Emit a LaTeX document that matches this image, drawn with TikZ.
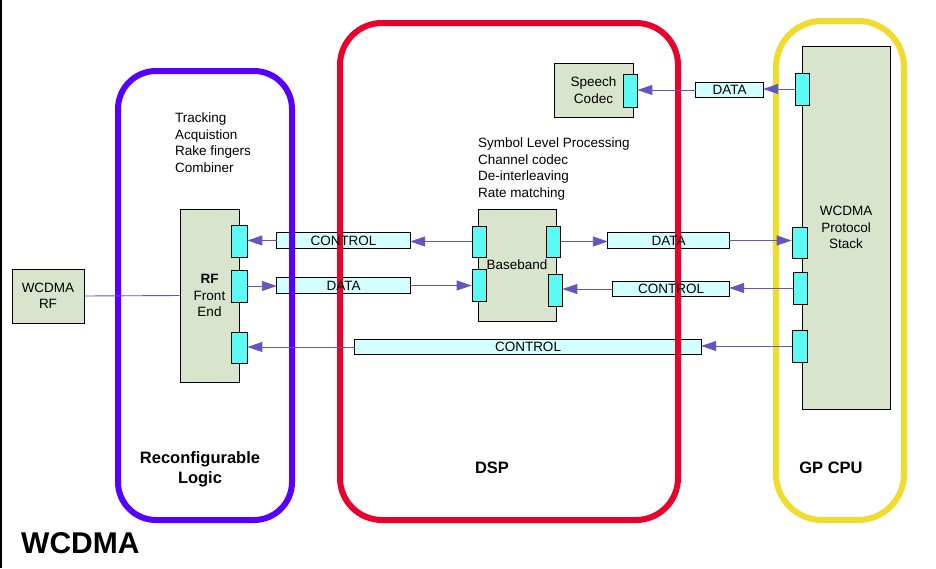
\documentclass[tikz,border=0pt]{standalone}
\usepackage{fontspec}
\setmainfont{Liberation Sans}
\usetikzlibrary{arrows.meta}
\pgfdeclarelayer{background}
\pgfdeclarelayer{canvas}
\pgfsetlayers{canvas,background,main}
\definecolor{zonepurple}{RGB}{88,0,255}
\definecolor{zonered}{RGB}{234,0,42}
\definecolor{zoneyellow}{RGB}{240,220,44}
\definecolor{boxgreen}{RGB}{216,228,204}
\definecolor{portcyan}{RGB}{92,250,245}
\definecolor{lblfill}{RGB}{212,255,255}
\definecolor{arrowc}{RGB}{100,86,190}
\newcommand{\smallfont}{\fontsize{13.5}{16.5}\selectfont}
\newcommand{\boldlbl}{\fontsize{16.5}{20}\selectfont\bfseries}
\tikzset{
  unit/.style={draw=black, fill=boxgreen, line width=0.8pt, inner sep=0pt, align=center, font=\smallfont},
  port/.style={draw=black, fill=portcyan, line width=0.8pt, inner sep=0pt, minimum width=14pt, minimum height=32pt},
  lbl/.style={inner sep=0pt, font=\smallfont},
  lblbg/.style={draw=black, fill=lblfill, line width=0.8pt},
  arr/.style={draw=arrowc, line width=0.9pt, -{Triangle[length=15pt,width=10pt,fill=arrowc]}},
  plain/.style={draw=arrowc, line width=0.9pt},
  zone/.style={line width=6pt},
  listtxt/.style={inner sep=0pt, align=left, anchor=north west, font=\smallfont},
  zonetxt/.style={inner sep=0pt, align=center, font=\boldlbl},
}
\begin{document}
\begin{tikzpicture}[x=1pt,y=-1pt]
\begin{pgfonlayer}{canvas}
\fill[white] (0,0) rectangle (936,568);
\end{pgfonlayer}
\useasboundingbox (0,0) rectangle (936,568);
\draw[black, line width=1.5pt] (0.75,0) -- (0.75,568);

% units
\node[unit, minimum width=72pt, minimum height=54pt] (wrf) at (48,296) {WCDMA\\RF};
\node[unit, minimum width=59pt, minimum height=173pt] (rffe) at (209.5,295.5) {\textbf{RF}\\Front\\End};
\node[unit, minimum width=78pt, minimum height=112pt] (bb) at (517,265) {Baseband};
\node[unit, minimum width=88pt, minimum height=363pt] (ps) at (846,227.5) {WCDMA\\Protocol\\Stack};
\node[unit, minimum width=79pt, minimum height=54pt] (sc) at (593.5,90) {Speech\\Codec};

% ports
\node[port, minimum width=16pt] (rfp1) at (239,241) {};
\node[port, minimum width=16pt] (rfp2) at (239,286) {};
\node[port, minimum width=16pt, minimum height=31pt] (rfp3) at (239,347.5) {};
\node[port, minimum height=31pt] (bbl1) at (479,241.5) {};
\node[port] (bbl2) at (479,285) {};
\node[port, minimum height=31pt] (bbr1) at (553.5,241.5) {};
\node[port] (bbr2) at (555,290) {};
\node[port] (psA) at (802,89) {};
\node[port, minimum width=15pt, minimum height=31pt] (psB) at (799.5,242.5) {};
\node[port] (psC) at (800,288) {};
\node[port, minimum width=15pt] (psD) at (799.5,346) {};
\node[port, minimum height=33pt] (scp) at (630,90.5) {};

% label boxes
\node[lbl, minimum width=133pt, minimum height=15pt] (ctl1) at (343.5,240.5) {CONTROL};
\node[lbl, minimum width=133pt, minimum height=15pt] (dat1) at (343.5,285.5) {DATA};
\node[lbl, minimum width=121pt, minimum height=15pt] (dat2) at (668.5,240.5) {DATA};
\node[lbl, minimum width=116pt, minimum height=14pt] (ctl2) at (671,289) {CONTROL};
\node[lbl, minimum width=346pt, minimum height=14pt] (ctl3) at (528,347) {CONTROL};
\node[lbl, minimum width=67pt, minimum height=14pt] (dat3) at (729.5,90) {DATA};

\begin{pgfonlayer}{background}
  \foreach \n in {ctl1,dat1,dat2,ctl2,ctl3,dat3}
    \path[lblbg] (\n.south west) rectangle (\n.north east);
  \draw[zone, draw=zonepurple, rounded corners=38pt] (118,71) rectangle (292,520);
  \draw[zone, draw=zonered, rounded corners=42pt] (340,23) rectangle (678,520);
  \draw[zone, draw=zoneyellow, rounded corners=46pt] (776,21) rectangle (904,520);
\end{pgfonlayer}

% texts
\node[listtxt] (trk) at (175,113) {Tracking\\Acquistion\\Rake fingers\\Combiner};
\node[listtxt] (sym) at (478,138) {Symbol Level Processing\\Channel codec\\De-interleaving\\Rate matching};
\node[zonetxt] (rl) at (200,469) {Reconfigurable\\Logic};
\node[zonetxt] (dsp) at (492,468) {DSP};
\node[zonetxt] (gp) at (831,468) {GP CPU};
\node[inner sep=0pt, anchor=west, font=\fontsize{30}{34}\selectfont\bfseries] (title) at (21,543) {WCDMA};

% connectors
\draw[plain] (wrf.east) -- (rffe.west);
\draw[arr] (psA.west) -- (psA.west -| dat3.east);
\draw[arr] (dat3.west) -- (dat3.west -| scp.east);
\draw[arr] (bbl1.west) -- (bbl1.west -| ctl1.east);
\draw[arr] (ctl1.west) -- (ctl1.west -| rfp1.east);
\draw[arr] (rfp2.east) -- (rfp2.east -| dat1.west);
\draw[arr] (dat1.east) -- (dat1.east -| bbl2.west);
\draw[arr] (bbr1.east) -- (bbr1.east -| dat2.west);
\draw[arr] (dat2.east) -- (dat2.east -| psB.west);
\draw[arr] (psC.west) -- (psC.west -| ctl2.east);
\draw[arr] (ctl2.west) -- (ctl2.west -| bbr2.east);
\draw[arr] (psD.west) -- (psD.west -| ctl3.east);
\draw[arr] (ctl3.west) -- (ctl3.west -| rfp3.east);
\end{tikzpicture}
\end{document}
